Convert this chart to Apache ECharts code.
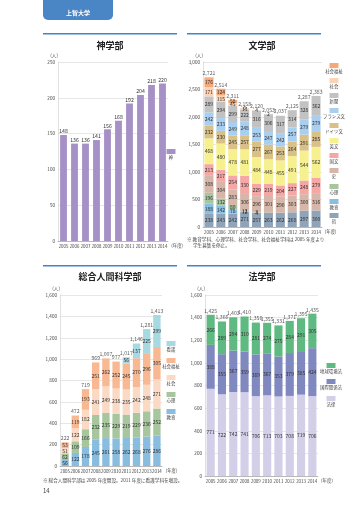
<!DOCTYPE html>
<html><head><meta charset="utf-8">
<script src="https://cdn.jsdelivr.net/npm/echarts/dist/echarts.min.js"></script>
<style>html,body{margin:0;padding:0;background:#fff}#c{width:360px;height:509px}</style>
</head><body><div id="c"></div>
<script>
// ---- data ----
const years = ['2005','2006','2007','2008','2009','2010','2011','2012','2013','2014'];
const yearUnit = '(年度)';
const personUnit = '(人)';

// 神学部
const shinName = '神';
const shinValues = [148,136,136,141,156,168,192,204,218,220];

// 文学部 (stack order bottom -> top)
const bunNames = ['哲','教育','心理','史','国文','英文','ドイツ文','フランス文','新聞','社会','社会福祉'];
const bunTetsu   = [238,243,242,271,257,263,262,268,297,300];
const bunKyoiku  = [188,142,78,12,4,0,0,0,0,0];
const bunShinri  = [196,132,80,12,3,0,0,0,0,0];
const bunShi     = [308,304,283,306,296,301,290,303,300,316];
const bunKokubun = [213,217,254,330,229,219,204,227,248,279];
const bunEibun   = [468,480,478,481,484,448,455,491,544,562];
const bunDoitsu  = [232,230,245,257,277,267,253,264,291,285];
const bunFurans  = [242,233,249,248,253,247,242,257,279,279];
const bunShinbun = [289,294,299,222,316,306,317,314,328,362];
const bunShakai  = [171,115,45,13,4,2,0,0,0,0];
const bunFukushi = [176,124,58,6,0,0,0,0,0,0];
const bunTotals  = [2721,2514,2311,2158,2120,2053,2037,2125,2287,2383];

// 総合人間科学部
const sogoNames = ['教育','心理','社会','社会福祉','看護'];
const sogoKyoiku  = [56,122,178,245,261,258,262,268,276,286];
const sogoShinri  = [62,109,166,232,235,229,219,229,236,252];
const sogoShakai  = [51,122,182,241,249,238,235,242,248,271];
const sogoFukushi = [53,119,193,251,262,252,245,270,296,305];
const sogoKango   = [0,0,0,0,0,0,56,137,225,299];
const sogoTotals  = [222,472,719,969,1007,977,1017,1146,1281,1413];

// 法学部
const hoNames = ['法律','国際関係法','地球環境法'];
const hoRitsu   = [771,722,742,741,706,713,703,708,719,706];
const hoKokusai = [388,355,367,359,369,367,353,379,385,424];
const hoChikyu  = [266,289,294,310,281,274,275,284,291,305];
const hoTotals  = [1425,1366,1403,1410,1356,1355,1331,1371,1395,1435];

// text
const titles = ['神学部','文学部','総合人間科学部','法学部'];
const headerText = '上智大学';
const bunNote1 = '※ 教育学科、心理学科、社会学科、社会福祉学科は 2005 年度より';
const bunNote2 = '学生募集を停止。';
const sogoNote = '※ 総合人間科学部は 2005 年度開設。2011 年度に看護学科を増設。';
const pageNum = '14';

// ---- styles ----
const FONT = "'Noto Sans CJK JP','Noto Sans',sans-serif";
const shinColor = '#a591c6';
const bunColors = ['#8fa4b8','#88bfe0','#a7c69d','#d5b6a8','#f5a7a5','#f6f08f','#d9c087','#a9cff0','#c2c2c2','#fbd3b5','#f5a97a'];
const sogoColors = ['#88bde0','#a7c69d','#fbdac5','#f7b892','#a7d9e2'];
const hoColors = ['#d3cfe9','#8088c0','#5fba82'];

const fmt = n => String(n).replace(/\B(?=(\d{3})+(?!\d))/g, ',');

function xAx(gi, gap){
  return {type:'category', gridIndex:gi, data:years,
    axisLine:{lineStyle:{color:'#999',width:0.6}}, axisTick:{show:false},
    axisLabel:{fontSize:4.4,color:'#444',margin:gap,interval:0},
    name:yearUnit, nameLocation:'end', nameGap:2,
    nameTextStyle:{fontSize:4.4,color:'#444',verticalAlign:'top',padding:[gap-1,0,0,0]}};
}
function yAx(gi, max, interval){
  return {type:'value', gridIndex:gi, min:0, max:max, interval:interval,
    axisLine:{show:true,lineStyle:{color:'#ccc',width:0.6}}, axisTick:{show:false},
    splitLine:{lineStyle:{color:'#d6d6d6',width:0.6}},
    axisLabel:{fontSize:4.6,color:'#444',margin:3,formatter:v=>fmt(v)},
    name:personUnit, nameLocation:'end', nameGap:4,
    nameTextStyle:{fontSize:4.6,color:'#444',align:'right'}};
}
function stack(names, datas, colors, gi, bw){
  return datas.map((d,i)=>({
    type:'bar', name:names[i], stack:'s'+gi, xAxisIndex:gi, yAxisIndex:gi,
    data:d, barWidth:bw, itemStyle:{color:colors[i]},
    label:{show:true, position:'inside', fontSize:5, color:'#333',
      formatter:p=>p.value>0?p.value:''}
  }));
}
function totals(vals, gi){
  return {type:'scatter', xAxisIndex:gi, yAxisIndex:gi, data:vals, symbolSize:1,
    itemStyle:{color:'rgba(0,0,0,0)'}, silent:true,
    label:{show:true, position:'top', distance:1, fontSize:5.2, color:'#333', formatter:p=>fmt(p.value)}};
}

const series = [];
series.push({type:'bar', xAxisIndex:0, yAxisIndex:0, data:shinValues, barWidth:'62%',
  itemStyle:{color:shinColor},
  label:{show:true, position:'top', distance:1, fontSize:5.2, color:'#333'}});
series.push(...stack(bunNames,[bunTetsu,bunKyoiku,bunShinri,bunShi,bunKokubun,bunEibun,bunDoitsu,bunFurans,bunShinbun,bunShakai,bunFukushi],bunColors,1,'76%'));
series.push(totals(bunTotals,1));
series.push(...stack(sogoNames,[sogoKyoiku,sogoShinri,sogoShakai,sogoFukushi,sogoKango],sogoColors,2,'72%'));
series.push(totals(sogoTotals,2));
series.push(...stack(hoNames,[hoRitsu,hoKokusai,hoChikyu],hoColors,3,'72%'));
series.push(totals(hoTotals,3));

// graphics
const g = [];
g.push({type:'rect', shape:{x:43,y:-6,width:70,height:26,r:5}, style:{fill:'#4a86c5'}});
g.push({type:'text', x:78, y:13, style:{text:headerText, fill:'#fff', align:'center', verticalAlign:'middle', font:'bold 6px '+FONT}});
[[43,33],[187,33],[43,265],[187,265]].forEach(p=>g.push({type:'rect', shape:{x:p[0],y:p[1],width:134,height:1.6}, style:{fill:'#3f86c8'}}));
[[110,46],[262,46],[110,277],[262,277]].forEach((p,i)=>g.push({type:'text', x:p[0], y:p[1], style:{text:titles[i], fill:'#222', align:'center', verticalAlign:'middle', font:'bold 9px '+FONT}}));

function legend(names, colors, cx, ys){
  const n = names.length;
  ys.forEach((y,k)=>{
    const i = n-1-k;
    g.push({type:'rect', shape:{x:cx-4.5,y:y,width:9,height:5}, style:{fill:colors[i]}});
    g.push({type:'text', x:cx, y:y+8.5, style:{text:names[i], fill:'#444', align:'center', verticalAlign:'middle', font:'4.4px '+FONT}});
  });
}
legend([shinName],[shinColor],171,[149]);
legend(bunNames,bunColors,334,[63,78,93,108,123,138,153,168,184,199,213]);
legend(sogoNames,sogoColors,171,[341,358,375,392,409]);
legend(hoNames,hoColors,331,[363,379,396]);

g.push({type:'text', x:187, y:239, style:{text:bunNote1, fill:'#444', verticalAlign:'middle', font:'4.6px '+FONT}});
g.push({type:'text', x:193, y:245.5, style:{text:bunNote2, fill:'#444', verticalAlign:'middle', font:'4.6px '+FONT}});
g.push({type:'text', x:43, y:480, style:{text:sogoNote, fill:'#444', verticalAlign:'middle', font:'4.6px '+FONT}});
g.push({type:'text', x:43, y:491, style:{text:pageNum, fill:'#444', verticalAlign:'middle', font:'6px '+FONT}});

const option = {
  animation:false,
  textStyle:{fontFamily:FONT},
  grid:[
    {left:58, right:192, top:62, bottom:268},
    {left:203, right:38, top:62, bottom:282},
    {left:60, right:198, top:295, bottom:43},
    {left:205, right:42, top:295, bottom:33}
  ],
  xAxis:[xAx(0,3),xAx(1,3),xAx(2,3),xAx(3,3)],
  yAxis:[yAx(0,250,50),yAx(1,3000,500),yAx(2,1600,200),yAx(3,1600,200)],
  series:series,
  graphic:g
};
const chart = echarts.init(document.getElementById('c'), null, {renderer:'canvas'});
chart.setOption(option);
</script>
</body></html>
